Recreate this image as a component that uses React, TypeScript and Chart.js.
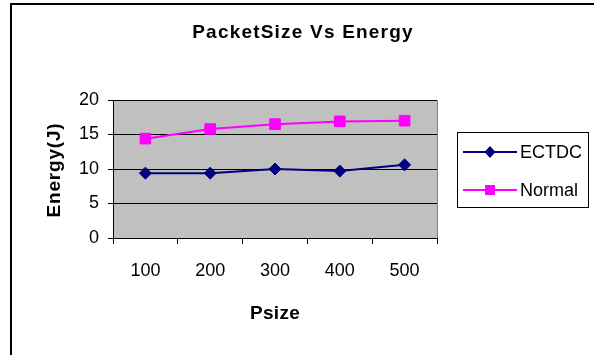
import React, { useEffect, useRef } from "react";
import { Chart, registerables } from "chart.js";

Chart.register(...registerables);

const categories = ["100", "200", "300", "400", "500"];
const ectdcValues = [9.4, 9.4, 10.0, 9.7, 10.6];
const normalValues = [14.4, 15.8, 16.5, 16.9, 17.0];
const seriesNames = ["ECTDC", "Normal"];
const chartTitle = "PacketSize Vs Energy";
const xTitle = "Psize";
const yTitle = "Energy(J)";

const FONT = '"Liberation Sans", Arial, sans-serif';
const W = 594;
const H = 355;

const decorPlugin = {
  id: "decor",
  beforeDraw(chart: any) {
    const ctx = chart.ctx;
    const a = chart.chartArea;
    ctx.save();
    ctx.fillStyle = "#ffffff";
    ctx.fillRect(0, 0, W, H);
    ctx.strokeStyle = "#000000";
    ctx.lineWidth = 2;
    ctx.beginPath();
    ctx.moveTo(11, H + 2);
    ctx.lineTo(11, 4);
    ctx.lineTo(W + 2, 4);
    ctx.stroke();
    ctx.fillStyle = "#c0c0c0";
    ctx.fillRect(a.left, a.top, a.right - a.left, a.bottom - a.top);
    ctx.strokeStyle = "#808080";
    ctx.lineWidth = 1;
    ctx.beginPath();
    ctx.moveTo(a.left, a.top + 0.5);
    ctx.lineTo(a.right + 0.5, a.top + 0.5);
    ctx.lineTo(a.right + 0.5, a.bottom);
    ctx.stroke();
    ctx.restore();
  },
  afterDraw(chart: any) {
    const ctx = chart.ctx;
    const a = chart.chartArea;
    ctx.save();
    ctx.fillStyle = "#000000";
    ctx.textAlign = "center";
    ctx.textBaseline = "middle";
    ctx.font = `bold 19px ${FONT}`;
    (ctx as any).letterSpacing = "1.2px";
    ctx.fillText(chartTitle, 303, 33);
    ctx.font = `bold 19px ${FONT}`;
    (ctx as any).letterSpacing = "0.3px";
    ctx.fillText(xTitle, (a.left + a.right) / 2, 314);
    (ctx as any).letterSpacing = "0.8px";
    ctx.save();
    ctx.translate(55, 170);
    ctx.rotate(-Math.PI / 2);
    ctx.fillText(yTitle, 0, 0);
    ctx.restore();
    (ctx as any).letterSpacing = "0px";

    const lx = 457, ly = 132, lw = 131, lh = 75;
    ctx.fillStyle = "#ffffff";
    ctx.fillRect(lx, ly, lw, lh);
    ctx.strokeStyle = "#000000";
    ctx.lineWidth = 1;
    ctx.strokeRect(lx + 0.5, ly + 0.5, lw, lh);
    const rows = [152, 190];
    chart.data.datasets.forEach((ds: any, i: number) => {
      const y = rows[i];
      ctx.strokeStyle = ds.borderColor;
      ctx.lineWidth = 2;
      ctx.beginPath();
      ctx.moveTo(463, y);
      ctx.lineTo(517, y);
      ctx.stroke();
      ctx.fillStyle = ds.backgroundColor;
      ctx.beginPath();
      if (ds.pointStyle === "rectRot") {
        ctx.moveTo(490, y - 6);
        ctx.lineTo(495.5, y);
        ctx.lineTo(490, y + 6);
        ctx.lineTo(484.5, y);
        ctx.closePath();
      } else {
        ctx.rect(485, y - 5, 10, 10);
      }
      ctx.fill();
      ctx.fillStyle = "#000000";
      ctx.textAlign = "left";
      ctx.font = `18px ${FONT}`;
      ctx.fillText(ds.label, 520, y + 1);
    });
    ctx.restore();
  },
};

export default function App() {
  const ref = useRef<HTMLCanvasElement | null>(null);
  useEffect(() => {
    if (!ref.current) return;
    const chart = new Chart(ref.current, {
      type: "line",
      data: {
        labels: categories,
        datasets: [
          {
            label: seriesNames[0],
            data: ectdcValues,
            borderColor: "#000080",
            backgroundColor: "#000080",
            borderWidth: 2,
            pointStyle: "rectRot",
            pointRadius: 6,
            pointBorderWidth: 1,
            tension: 0,
          },
          {
            label: seriesNames[1],
            data: normalValues,
            borderColor: "#ff00ff",
            backgroundColor: "#ff00ff",
            borderWidth: 2,
            pointStyle: "rect",
            pointRadius: 7.5,
            pointBorderWidth: 1,
            tension: 0,
          },
        ],
      },
      options: {
        animation: false,
        responsive: false,
        maintainAspectRatio: false,
        devicePixelRatio: 1,
        layout: { padding: { top: 100, right: 157, left: 0, bottom: 0 } },
        plugins: {
          legend: { display: false },
          title: { display: false },
          tooltip: { enabled: false },
        },
        scales: {
          y: {
            min: 0,
            max: 20,
            ticks: {
              stepSize: 5,
              color: "#000000",
              font: { family: FONT, size: 18 },
              padding: 9,
            },
            grid: { color: "#000000", tickLength: 5, lineWidth: 1 },
            border: { color: "#000000", width: 1 },
            afterFit: (s: any) => {
              s.width = 113;
            },
          },
          x: {
            offset: true,
            ticks: {
              color: "#000000",
              font: { family: FONT, size: 18 },
              padding: 16,
            },
            grid: {
              offset: true,
              drawOnChartArea: false,
              color: "#000000",
              tickLength: 6,
            },
            border: { color: "#000000", width: 1 },
            afterFit: (s: any) => {
              s.height = 117;
            },
          },
        },
      },
      plugins: [decorPlugin],
    });
    return () => chart.destroy();
  }, []);
  return (
    <div style={{ position: "absolute", left: 0, top: 0, width: W, height: H }}>
      <canvas ref={ref} width={W} height={H} style={{ width: W, height: H, display: "block" }} />
    </div>
  );
}
